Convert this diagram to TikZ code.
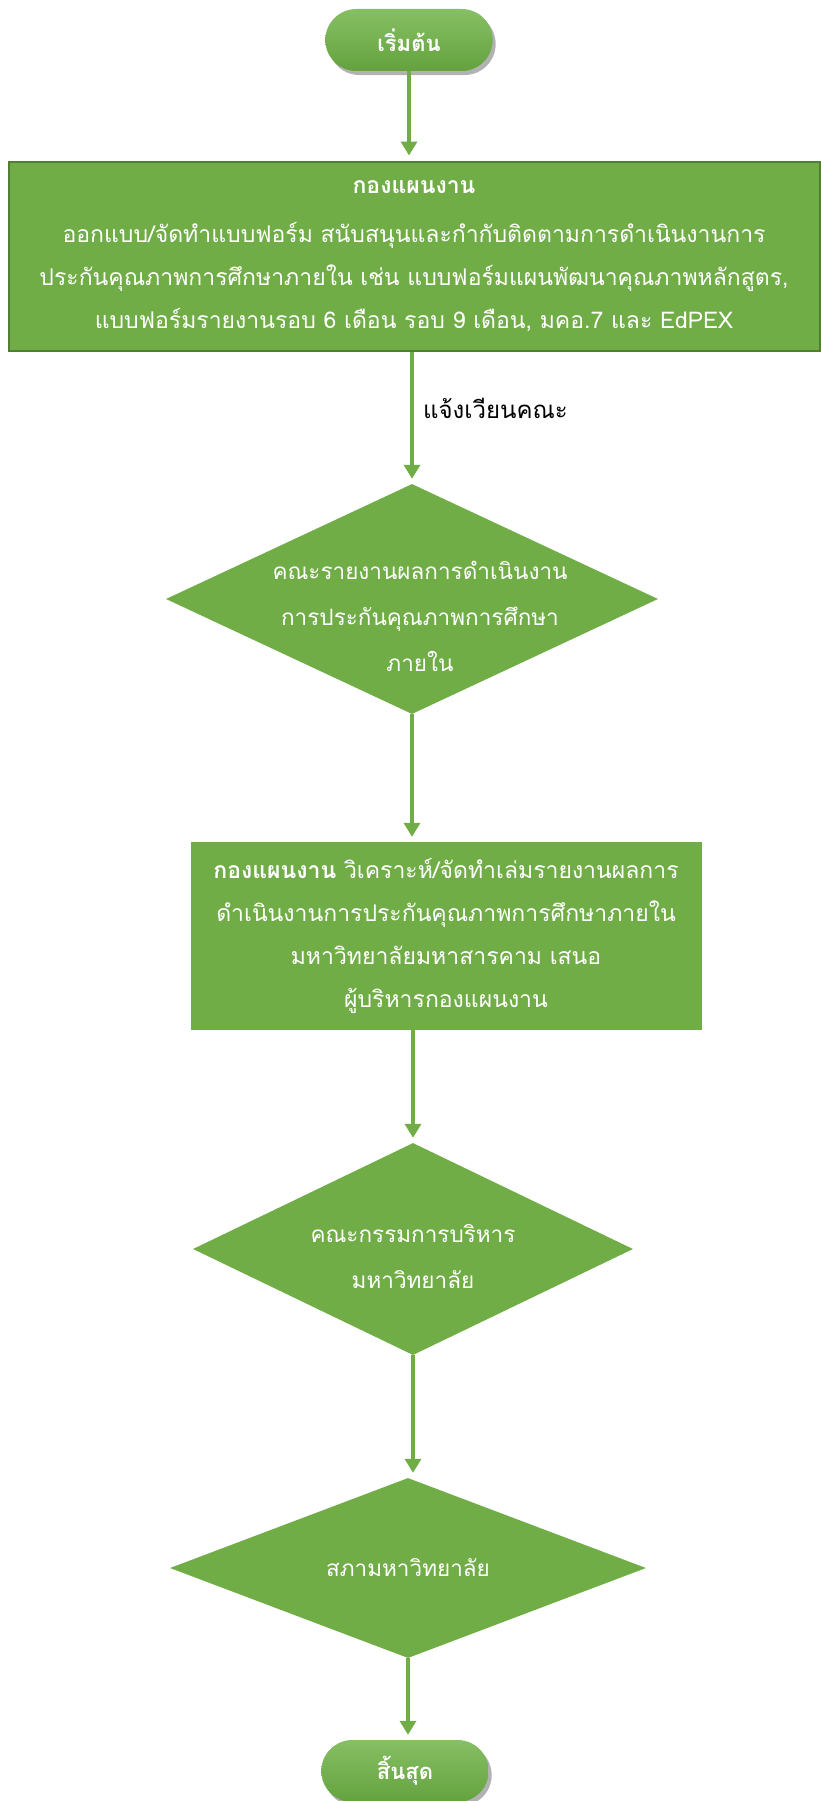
\documentclass[tikz,border=0pt]{standalone}
\usepackage{fontspec}
\setmainfont[Script=Thai]{Loma}
\usetikzlibrary{arrows.meta}
\usetikzlibrary{shapes.geometric}
\usetikzlibrary{shapes.misc}
\usetikzlibrary{shadows}
\definecolor{leaf}{HTML}{70AD47}
\definecolor{leafdark}{HTML}{507E32}
\definecolor{leaftop}{HTML}{86BF64}
\definecolor{leafbot}{HTML}{64A23E}
\tikzset{>={Triangle[length=14pt,width=16pt]}}
\tikzset{
    terminal/.style={rounded rectangle, minimum width=174pt, minimum height=62pt,
        top color=leaftop, bottom color=leafbot, text=white,
        font=\bfseries\fontsize{22}{26}\selectfont,
        drop shadow={shadow xshift=3pt, shadow yshift=-4pt, opacity=.3, fill=black}},
    process/.style={rectangle, fill=leaf, text=white, align=center, inner sep=0pt,
        font=\fontsize{23}{43}\selectfont},
    decision/.style={diamond, fill=leaf, inner sep=0pt},
    words/.style={text=white, align=center, font=\fontsize{22.5}{46}\selectfont},
    flow/.style={->, draw=leaf, line width=3.5pt, shorten >=5pt},
}

\begin{document}
\begin{tikzpicture}[x=1pt,y=1pt]
	\useasboundingbox (0,0) rectangle (821,-1801);
	\node[terminal] (start) at (409,-40) {เริ่มต้น};
	\node[process, draw=leafdark, line width=2pt, minimum width=811pt, minimum height=189pt] (plan) at (414,-256)
		{\textbf{กองแผนงาน}\\[6pt]ออกแบบ/จัดทำแบบฟอร์ม สนับสนุนและกำกับติดตามการดำเนินงานการ\\ประกันคุณภาพการศึกษาภายใน เช่น แบบฟอร์มแผนพัฒนาคุณภาพหลักสูตร,\\แบบฟอร์มรายงานรอบ 6 เดือน รอบ 9 เดือน, มคอ.7 และ EdPEX};
	\node[decision, minimum width=492pt, minimum height=230pt,
		label={[words, yshift=-17pt, xshift=8pt]center:{คณะรายงานผลการดำเนินงาน\\การประกันคุณภาพการศึกษา\\ภายใน}}] (faculty) at (412,-599) {};
	\node[process, minimum width=511pt, minimum height=188pt] (report) at (446,-936)
		{\textbf{กองแผนงาน} วิเคราะห์/จัดทำเล่มรายงานผลการ\\ดำเนินงานการประกันคุณภาพการศึกษาภายใน\\มหาวิทยาลัยมหาสารคาม เสนอ\\ผู้บริหารกองแผนงาน};
	\node[decision, minimum width=440pt, minimum height=212pt,
		label={[words, yshift=-8pt]center:{คณะกรรมการบริหาร\\มหาวิทยาลัย}}] (board) at (413,-1249) {};
	\node[decision, minimum width=476pt, minimum height=180pt,
		label={[words]center:{สภามหาวิทยาลัย}}] (council) at (408,-1568) {};
	\node[terminal] (stop) at (405,-1771) {สิ้นสุด};

	\draw[flow] (start.south) -- (start.south |- plan.north);
	\draw[flow] (plan.south -| faculty.north) -- node[right=6pt, yshift=9pt, text=black, font=\fontsize{24}{28}\selectfont] {แจ้งเวียนคณะ} (faculty.north);
	\draw[flow] (faculty.south) -- (faculty.south |- report.north);
	\draw[flow] (report.south -| board.north) -- (board.north);
	\draw[flow] (board.south) -- (board.south |- council.north);
	\draw[flow] (council.south) -- (council.south |- stop.north);
\end{tikzpicture}
\end{document}
